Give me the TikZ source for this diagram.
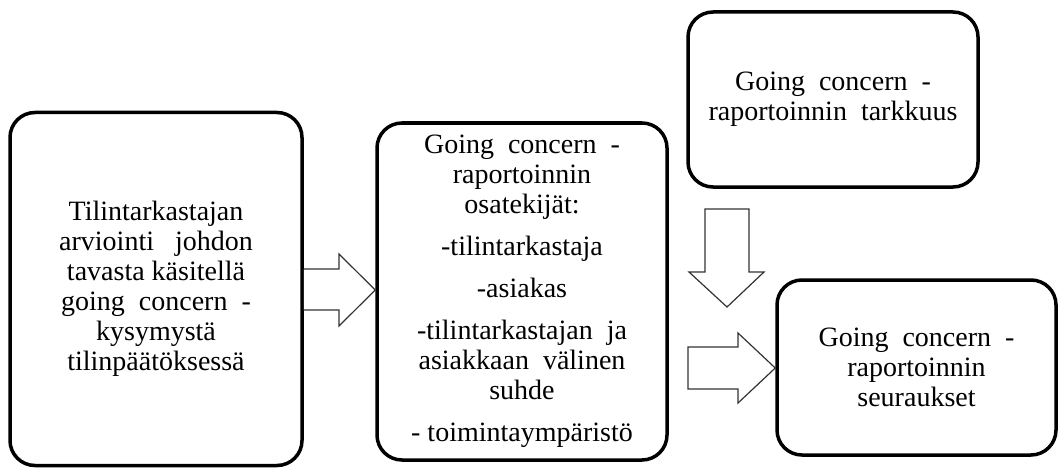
\documentclass[tikz,border=0pt]{standalone}
\usepackage{fontspec}
\newfontfamily\tnr{Liberation Serif}
\begin{document}
\begin{tikzpicture}[x=1pt,y=-1pt,
  box/.style={draw, line width=3.5pt, rounded corners=25pt, align=center,
    font=\tnr\fontsize{28}{30}\selectfont, inner sep=0pt},
  blockarrow/.style={draw=black!80, line width=1.2pt, fill=white, line join=miter}]
\useasboundingbox (0,0) rectangle (1059,468);
\node[box, minimum width=292pt, minimum height=353pt] (b1) at (156,289)
  {Tilintarkastajan\\arviointi \ \ johdon\\tavasta käsitellä\\going \ concern \ -\\kysymystä\\tilinpäätöksessä};
\node[box, minimum width=290pt, minimum height=337pt] (b2) at (522,291.5)
  {Going \ concern \ -\\raportoinnin\\osatekijät:\\[12pt]-tilintarkastaja\\[12pt]-asiakas\\[12pt]-tilintarkastajan \ ja\\asiakkaan \ välinen\\suhde\\[12pt]- toimintaympäristö};
\node[box, minimum width=290pt, minimum height=175pt] (b3) at (833,99.5)
  {Going \ concern \ -\\raportoinnin \ tarkkuus};
\node[box, minimum width=279pt, minimum height=175pt] (b4) at (916.5,367.5)
  {Going \ concern \ -\\raportoinnin\\seuraukset};
% block arrows
\draw[blockarrow] (b1.east |- 0,269) -- (339,269) -- (339,254) -- (b2.west |- 0,290) -- (339,326) -- (339,310) -- (b1.east |- 0,310);
\draw[blockarrow] (705,209) -- (749,209) -- (749,272) -- (764,272) -- (727,307) -- (689,272) -- (705,272) -- cycle;
\draw[blockarrow] (688,347) -- (738,347) -- (738,333) -- (b4.west |- 0,368) -- (738,403) -- (738,389) -- (688,389) -- cycle;
\end{tikzpicture}
\end{document}
